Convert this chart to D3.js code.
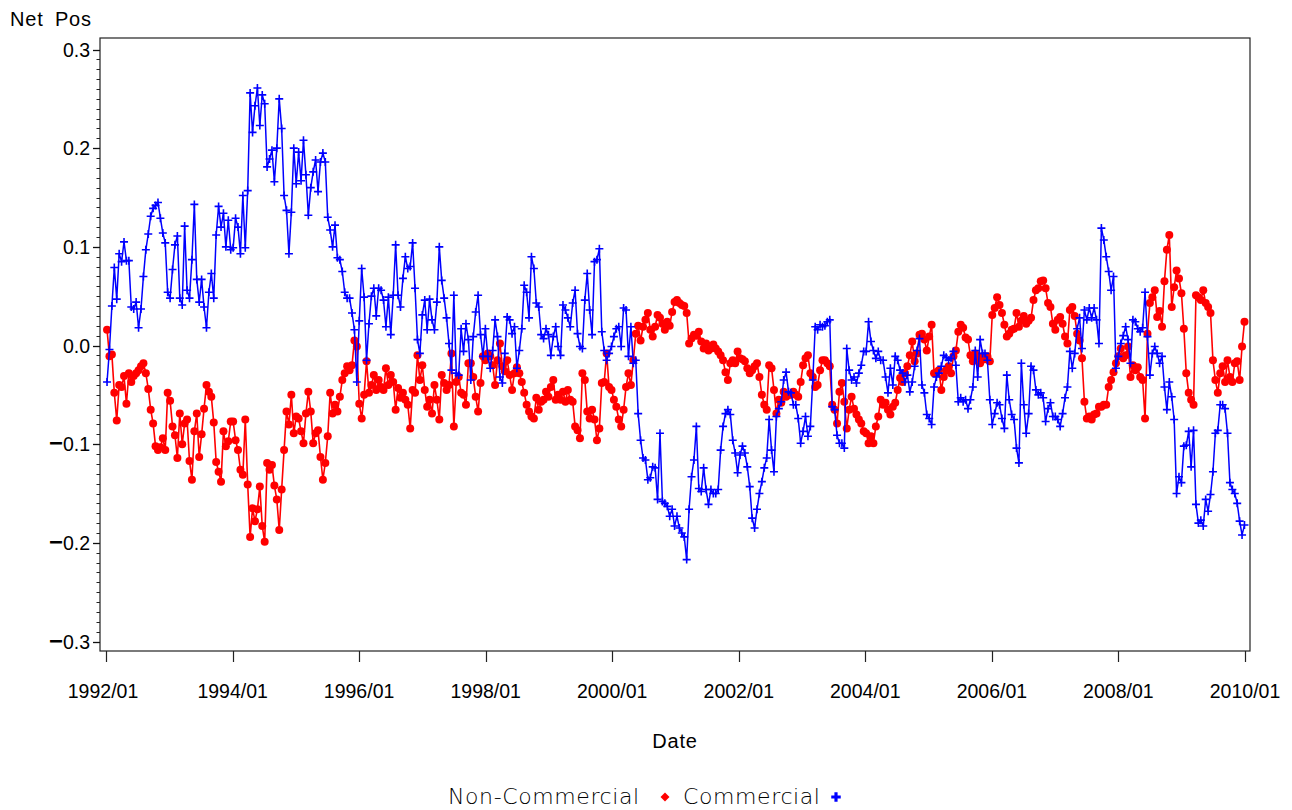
<!DOCTYPE html>
<html>
<head>
<meta charset="utf-8">
<script src="https://cdn.jsdelivr.net/npm/d3@7"></script>
<style>
  html, body { margin: 0; padding: 0; background: #fff; }
  svg { display: block; }
  .lab { font-family: "Liberation Sans", Arial, sans-serif; font-size: 19.5px; fill: #000; }
  .ttl { font-family: "Liberation Sans", Arial, sans-serif; font-size: 20px; fill: #000; letter-spacing: 0.8px; word-spacing: 5px; }
  .leg { font-family: "DejaVu Sans", sans-serif; font-weight: 200; font-size: 22px; fill: #000; letter-spacing: 0.6px; }
</style>
</head>
<body>
<svg id="chart" width="1292" height="810"></svg>
<script>
// ---- data: biweekly observations starting 1992-01-07 ----
const firstDate = "1992-01-07";
const stepDays = 14;

const nonCommercial = [
0.016,-0.011,-0.009,-0.048,-0.076,-0.040,-0.042,-0.031,-0.059,-0.028,-0.037,-0.031,-0.028,-0.025,-0.021,-0.018,-0.028,-0.044,-0.065,-0.079,-0.102,-0.106,-0.103,-0.094,-0.106,-0.048,
-0.056,-0.082,-0.091,-0.114,-0.069,-0.100,-0.079,-0.075,-0.117,-0.136,-0.087,-0.069,-0.113,-0.090,-0.064,-0.040,-0.047,-0.052,-0.078,-0.118,-0.128,-0.138,-0.087,-0.102,-0.097,-0.077,
-0.077,-0.096,-0.106,-0.126,-0.131,-0.075,-0.141,-0.194,-0.165,-0.178,-0.166,-0.143,-0.183,-0.199,-0.119,-0.126,-0.121,-0.142,-0.156,-0.187,-0.146,-0.106,-0.067,-0.080,-0.050,-0.089,
-0.072,-0.074,-0.087,-0.099,-0.069,-0.047,-0.067,-0.099,-0.089,-0.086,-0.113,-0.136,-0.119,-0.092,-0.048,-0.069,-0.060,-0.067,-0.052,-0.035,-0.028,-0.021,-0.025,-0.020,0.005,-0.001,
-0.059,-0.074,-0.050,-0.016,-0.048,-0.040,-0.030,-0.045,-0.035,-0.042,-0.045,-0.023,-0.040,-0.030,-0.037,-0.065,-0.043,-0.053,-0.048,-0.055,-0.060,-0.084,-0.045,-0.048,-0.010,-0.035,
-0.020,-0.045,-0.062,-0.055,-0.069,-0.040,-0.055,-0.075,-0.030,-0.038,-0.045,-0.040,-0.008,-0.082,-0.037,-0.032,-0.048,-0.050,-0.060,-0.018,-0.018,-0.032,-0.052,-0.067,-0.038,-0.011,
-0.015,-0.008,-0.011,-0.020,-0.040,-0.015,0.002,-0.021,-0.026,-0.015,-0.030,-0.045,-0.028,-0.022,-0.028,-0.037,-0.048,-0.060,-0.067,-0.072,-0.074,-0.053,-0.065,-0.057,-0.055,-0.047,
-0.052,-0.042,-0.035,-0.055,-0.050,-0.055,-0.047,-0.057,-0.045,-0.055,-0.057,-0.082,-0.086,-0.094,-0.028,-0.035,-0.067,-0.074,-0.065,-0.075,-0.096,-0.084,-0.038,-0.037,-0.008,-0.042,
-0.045,-0.055,-0.062,-0.075,-0.082,-0.065,-0.042,-0.028,-0.040,-0.015,0.012,0.020,0.005,0.019,0.026,0.033,0.016,0.009,0.019,0.031,0.028,0.022,0.016,0.024,0.020,0.034,
0.044,0.046,0.043,0.041,0.040,0.033,0.002,0.007,0.011,0.010,0.014,0.004,-0.003,0.002,-0.005,-0.003,0.001,-0.003,-0.006,-0.010,-0.015,-0.027,-0.035,-0.018,-0.015,-0.018,
-0.006,-0.013,-0.014,-0.016,-0.023,-0.028,-0.025,-0.021,-0.018,-0.032,-0.050,-0.060,-0.065,-0.020,-0.023,-0.045,-0.069,-0.055,-0.058,-0.047,-0.052,-0.050,-0.050,-0.047,-0.050,-0.052,
-0.037,-0.020,-0.013,-0.010,-0.028,-0.032,-0.042,-0.040,-0.025,-0.015,-0.015,-0.018,-0.021,-0.060,-0.065,-0.079,-0.047,-0.038,-0.057,-0.084,-0.065,-0.052,-0.064,-0.070,-0.075,-0.079,
-0.087,-0.089,-0.099,-0.092,-0.099,-0.082,-0.072,-0.055,-0.060,-0.058,-0.065,-0.070,-0.062,-0.058,-0.045,-0.033,-0.037,-0.028,-0.021,-0.010,0.004,-0.016,-0.008,0.011,0.012,0.006,
-0.005,0.009,0.021,-0.028,-0.027,-0.025,-0.045,-0.032,-0.025,-0.021,-0.028,-0.011,-0.005,0.014,0.021,0.018,0.008,0.006,-0.010,-0.016,-0.008,-0.014,-0.018,-0.011,-0.014,-0.011,
-0.016,0.031,0.038,0.049,0.041,0.033,0.021,0.009,0.012,0.016,0.017,0.033,0.019,0.025,0.030,0.022,0.025,0.028,0.046,0.056,0.058,0.065,0.066,0.058,0.043,0.039,
0.022,0.016,0.026,0.029,0.022,0.009,0.002,0.036,0.039,0.030,0.012,0.005,-0.013,-0.057,-0.074,-0.072,-0.075,-0.070,-0.069,-0.062,-0.062,-0.060,-0.060,-0.042,-0.035,-0.027,
-0.018,-0.011,-0.003,-0.013,-0.010,-0.001,-0.032,-0.020,-0.025,-0.022,-0.032,-0.035,-0.074,0.012,0.043,0.049,0.056,0.029,0.035,0.019,0.065,0.097,0.112,0.039,0.059,0.076,
0.068,0.053,0.017,-0.028,-0.048,-0.055,-0.060,0.051,0.049,0.046,0.056,0.043,0.039,0.033,-0.015,-0.035,-0.048,-0.028,-0.021,-0.037,-0.015,-0.032,-0.037,-0.018,-0.016,-0.035,-0.001,0.024
];

const commercial = [
-0.037,-0.004,0.040,0.079,0.047,0.093,0.085,0.105,0.086,0.086,0.039,0.037,0.044,0.018,0.037,0.070,0.097,0.113,0.131,0.139,0.142,0.145,0.129,0.114,0.104,0.054,
0.048,0.077,0.102,0.111,0.048,0.041,0.121,0.056,0.048,0.087,0.143,0.067,0.044,0.067,0.039,0.018,0.054,0.073,0.048,0.112,0.141,0.120,0.134,0.100,0.127,0.097,
0.099,0.129,0.120,0.093,0.152,0.099,0.157,0.256,0.216,0.243,0.261,0.223,0.254,0.245,0.181,0.189,0.198,0.166,0.200,0.250,0.220,0.152,0.137,0.093,0.135,0.200,
0.164,0.196,0.167,0.208,0.173,0.132,0.160,0.176,0.188,0.156,0.186,0.195,0.186,0.130,0.117,0.100,0.122,0.089,0.087,0.075,0.054,0.048,0.048,0.033,0.016,-0.037,
0.025,0.078,0.049,-0.015,0.022,0.050,0.058,0.030,0.058,0.056,0.046,0.019,0.049,0.011,0.051,0.102,0.051,0.039,0.068,0.090,0.078,0.080,0.104,0.058,0.006,-0.008,
0.031,0.046,0.016,0.047,0.026,0.016,0.044,0.100,0.066,0.048,0.028,0.002,-0.025,0.051,-0.028,-0.030,0.017,-0.006,0.022,0.006,-0.035,0.009,0.034,0.051,0.011,-0.011,
0.017,-0.011,-0.023,-0.005,0.026,0.009,-0.032,-0.038,-0.008,0.029,0.026,0.012,0.019,-0.023,-0.005,0.017,0.061,0.054,0.028,0.090,0.078,0.043,0.039,0.011,0.007,0.017,
0.011,-0.010,0.009,0.019,-0.001,-0.010,0.041,0.036,0.028,0.019,0.043,0.056,0.012,-0.001,-0.003,0.046,0.073,0.036,0.011,0.085,0.087,0.098,0.014,-0.005,-0.015,-0.008,
-0.001,0.009,0.017,0.019,-0.001,0.038,0.036,-0.011,0.019,-0.018,-0.015,-0.069,-0.096,-0.114,-0.116,-0.136,-0.134,-0.123,-0.124,-0.156,-0.089,-0.158,-0.160,-0.163,-0.173,-0.166,
-0.183,-0.173,-0.185,-0.190,-0.194,-0.217,-0.166,-0.133,-0.116,-0.082,-0.145,-0.148,-0.124,-0.146,-0.161,-0.146,-0.150,-0.150,-0.146,-0.106,-0.082,-0.069,-0.065,-0.070,-0.096,-0.109,
-0.129,-0.111,-0.102,-0.109,-0.123,-0.143,-0.175,-0.185,-0.166,-0.150,-0.138,-0.124,-0.114,-0.075,-0.106,-0.128,-0.072,-0.064,-0.057,-0.035,-0.027,-0.047,-0.048,-0.060,-0.060,-0.074,
-0.099,-0.087,-0.072,-0.092,-0.082,-0.035,0.019,0.016,0.021,0.019,0.020,0.024,0.026,-0.062,-0.065,-0.091,-0.099,-0.099,-0.104,-0.003,-0.025,-0.035,-0.032,-0.038,-0.028,-0.020,
-0.006,-0.006,0.024,0.004,-0.005,-0.013,-0.006,-0.015,-0.015,-0.032,-0.048,-0.023,-0.040,-0.011,-0.015,-0.025,-0.028,-0.037,-0.030,-0.047,-0.037,-0.021,-0.005,0.007,-0.040,-0.048,
-0.070,-0.074,-0.080,-0.042,-0.032,-0.028,-0.021,-0.010,-0.012,-0.015,-0.013,-0.006,-0.020,-0.057,-0.053,-0.057,-0.055,-0.064,-0.055,-0.042,-0.005,-0.032,0.006,-0.008,-0.008,-0.015,
-0.055,-0.080,-0.069,-0.058,-0.060,-0.074,-0.084,-0.030,-0.055,-0.070,-0.075,-0.104,-0.119,-0.018,-0.060,-0.089,-0.069,-0.021,-0.025,-0.045,-0.050,-0.048,-0.053,-0.077,-0.064,-0.058,
-0.072,-0.072,-0.075,-0.082,-0.069,-0.053,-0.042,-0.006,-0.023,-0.008,0.017,0.028,-0.003,0.036,0.026,0.038,0.028,0.038,0.026,0.002,0.119,0.107,0.090,0.075,0.056,0.070,
-0.023,-0.011,0.002,0.010,0.019,0.006,-0.018,0.026,0.024,0.017,0.014,0.018,0.054,0.009,-0.030,-0.008,-0.001,-0.008,-0.018,-0.011,-0.042,-0.065,-0.037,-0.052,-0.075,-0.150,
-0.133,-0.139,-0.102,-0.101,-0.087,-0.123,-0.086,-0.161,-0.180,-0.177,-0.183,-0.156,-0.168,-0.151,-0.128,-0.089,-0.086,-0.060,-0.060,-0.064,-0.089,-0.139,-0.146,-0.150,-0.160,-0.178,-0.192,-0.182
];

const xTickLabels = ["1992/01","1994/01","1996/01","1998/01","2000/01","2002/01","2004/01","2006/01","2008/01","2010/01"];
const yTicks = [-0.3, -0.2, -0.1, 0.0, 0.1, 0.2, 0.3];
const seriesNames = ["Non-Commercial", "Commercial"];
const seriesColors = ["#ff0000", "#0000ff"];

// ---- layout ----
const svg = d3.select("#chart");
const frame = {left: 100, right: 1250, top: 38, bottom: 651};
const parse = d3.timeParse("%Y/%m");
const x = d3.scaleTime()
  .domain([parse("1992/01"), parse("2010/01")])
  .range([106, 1245]);
const y = d3.scaleLinear().domain([-0.3, 0.3]).range([641.5, 49.5]);

const t0 = d3.timeParse("%Y-%m-%d")(firstDate);
const dateAt = i => d3.timeDay.offset(t0, i * stepDays);
const redData = nonCommercial.map((v, i) => ({d: dateAt(i), v}));
const blueData = commercial.map((v, i) => ({d: dateAt(i), v}));

// frame
svg.append("rect")
  .attr("x", frame.left).attr("y", frame.top)
  .attr("width", frame.right - frame.left).attr("height", frame.bottom - frame.top)
  .attr("fill", "none").attr("stroke", "#222").attr("stroke-width", 1.2);

// y axis: major + minor ticks
const yAxisG = svg.append("g");
const minor = d3.range(-30, 31).map(k => k / 100);
yAxisG.selectAll("line.minor").data(minor).join("line")
  .attr("x1", 96.5).attr("x2", frame.left)
  .attr("y1", d => Math.round(y(d)) + 0.5).attr("y2", d => Math.round(y(d)) + 0.5)
  .attr("stroke", "#222").attr("stroke-width", 1);
yAxisG.selectAll("line.major").data(yTicks).join("line")
  .attr("x1", 93).attr("x2", frame.left)
  .attr("y1", d => Math.round(y(d)) + 0.5).attr("y2", d => Math.round(y(d)) + 0.5)
  .attr("stroke", "#111").attr("stroke-width", 1.3);
const yl = yAxisG.selectAll("text").data(yTicks).join("text")
  .attr("class", "lab")
  .attr("x", 90).attr("y", d => y(d) + 7)
  .attr("text-anchor", "end");
yl.each(function(d) {
  const t = d3.select(this);
  const s = Math.abs(d).toFixed(1);
  if (d < 0) {
    t.append("tspan").attr("font-weight", "bold").attr("font-size", "24px").text("\u2212");
  }
  t.append("tspan").text(s);
});

// x axis ticks
const xTickDates = xTickLabels.map(parse);
const xAxisG = svg.append("g");
xAxisG.selectAll("line").data(xTickDates).join("line")
  .attr("x1", d => Math.round(x(d)) + 0.5).attr("x2", d => Math.round(x(d)) + 0.5)
  .attr("y1", frame.bottom).attr("y2", frame.bottom + 11)
  .attr("stroke", "#222").attr("stroke-width", 1.2);
xAxisG.selectAll("text").data(xTickLabels).join("text")
  .attr("class", "lab")
  .attr("x", (d, i) => x(xTickDates[i]) - (i === 0 ? 3 : 0))
  .attr("y", 698)
  .attr("text-anchor", "middle")
  .text(d => d);

// axis titles
svg.append("text").attr("class", "ttl").attr("x", 10).attr("y", 26).text("Net Pos");
svg.append("text").attr("class", "ttl").attr("x", 675).attr("y", 748)
  .attr("text-anchor", "middle").text("Date");

// lines
const line = d3.line().x(d => x(d.d)).y(d => y(d.v));
svg.append("path").datum(redData)
  .attr("d", line).attr("fill", "none")
  .attr("stroke", seriesColors[0]).attr("stroke-width", 1.6);
svg.append("g").selectAll("circle").data(redData).join("circle")
  .attr("cx", d => x(d.d)).attr("cy", d => y(d.v)).attr("r", 4)
  .attr("fill", seriesColors[0]);

svg.append("path").datum(blueData)
  .attr("d", line).attr("fill", "none")
  .attr("stroke", seriesColors[1]).attr("stroke-width", 1.5);
svg.append("g").selectAll("path.cross").data(blueData).join("path")
  .attr("transform", d => `translate(${x(d.d)},${y(d.v)})`)
  .attr("d", "M-4,0H4M0,-4V4")
  .attr("stroke", seriesColors[1]).attr("stroke-width", 1.6).attr("fill", "none");

// legend
const leg = svg.append("g");
leg.append("text").attr("class", "leg").attr("x", 448).attr("y", 804).text(seriesNames[0]);
leg.append("path").attr("transform", "translate(665,797)")
  .attr("d", "M0,-4.5L4.5,0L0,4.5L-4.5,0Z").attr("fill", seriesColors[0]);
leg.append("text").attr("class", "leg").attr("x", 683).attr("y", 804).text(seriesNames[1]);
leg.append("path").attr("transform", "translate(836,797)")
  .attr("d", d3.symbol(d3.symbolCross, 50)()).attr("fill", seriesColors[1]);
</script>
</body>
</html>
